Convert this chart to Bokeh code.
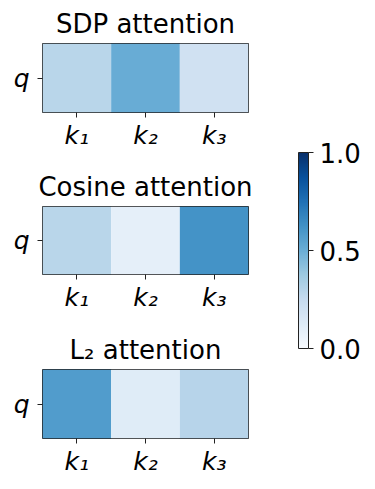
from bokeh.plotting import figure
from bokeh.models import LinearColorMapper, ColorBar, FixedTicker, PrintfTickFormatter, ColumnDataSource
from bokeh.layouts import column, row
from bokeh.palettes import Blues256
from bokeh.embed import file_html
from bokeh.resources import INLINE
from bokeh.transform import transform

keys = ["k\u2081", "k\u2082", "k\u2083"]
query = ["q"]
titles = ["SDP attention", "Cosine attention", "L\u2082 attention"]
sdp = [0.29, 0.51, 0.20]
cosine = [0.29, 0.09, 0.62]
l2 = [0.58, 0.12, 0.30]
cbar_ticks = [0.0, 0.5, 1.0]

FONT = "DejaVu Sans"
palette = list(reversed(Blues256))
mapper = LinearColorMapper(palette=palette, low=0, high=1)


def make_plot(title, vals, height, top, bottom):
    src = ColumnDataSource(dict(x=keys, y=query * len(keys), v=vals))
    p = figure(width=268, height=height, x_range=keys, y_range=query,
               output_backend="svg", toolbar_location=None, title=title,
               min_border_left=42, min_border_right=20, min_border_top=top,
               min_border_bottom=bottom)
    p.rect(x="x", y="y", width=1, height=1, source=src,
           fill_color=transform("v", mapper), line_color=None)
    p.title.align = "center"
    p.title.text_font = FONT
    p.title.text_font_size = "26px"
    p.title.text_font_style = "normal"
    p.title.text_color = "black"
    p.title.standoff = 9
    p.grid.visible = False
    p.outline_line_color = "#222222"
    p.outline_line_width = 1
    p.outline_line_alpha = 1
    for ax in (p.xaxis[0], p.yaxis[0]):
        ax.axis_line_color = None
        ax.major_tick_out = 5
        ax.major_tick_in = 0
        ax.minor_tick_out = 0
        ax.major_tick_line_color = "#222222"
        ax.major_label_text_font = FONT
        ax.major_label_text_font_size = "25px"
        ax.major_label_text_font_style = "italic"
        ax.major_label_text_color = "black"
        ax.group_text_font_size = "0px"
    p.xaxis.major_label_standoff = 3
    p.yaxis.major_label_standoff = 8
    p.yaxis.major_label_orientation = "horizontal"
    return p


p1 = make_plot(titles[0], sdp, 165, 43, 53)
p2 = make_plot(titles[1], cosine, 163, 41, 54)
p3 = make_plot(titles[2], l2, 153, 41, 43)

pc = figure(width=99, height=481, output_backend="svg", toolbar_location=None,
            x_axis_type=None, y_axis_type=None,
            min_border_left=0, min_border_right=0, min_border_top=0, min_border_bottom=0)
pc.outline_line_color = None
pc.grid.visible = False
cb = ColorBar(color_mapper=mapper, width=10, height=196, location=(30, 133),
              ticker=FixedTicker(ticks=cbar_ticks),
              formatter=PrintfTickFormatter(format="%.1f"),
              major_label_text_font=FONT, major_label_text_font_size="26px",
              major_label_text_color="black",
              major_tick_out=5, major_tick_in=0, major_tick_line_color="#222222",
              minor_tick_out=0, minor_tick_in=0,
              bar_line_color="#222222", bar_line_width=1,
              border_line_color=None, background_fill_alpha=0,
              padding=0, margin=0, label_standoff=6)
pc.add_layout(cb, "center")

layout = row(column(p1, p2, p3), pc)
open("out.html", "w").write(file_html(layout, INLINE))
